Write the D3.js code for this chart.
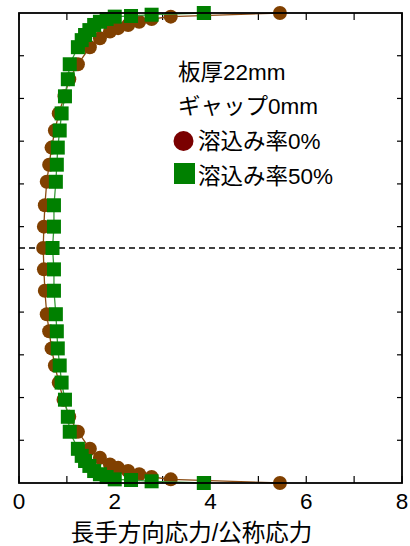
<!DOCTYPE html>
<html>
<head>
<meta charset="utf-8">
<script src="https://cdn.jsdelivr.net/npm/d3@7"></script>
<style>
  body { margin: 0; background: #fff; }
  text { font-family: "Liberation Sans", Arial, sans-serif; }
  .jp { font-family: "Liberation Sans", "Noto Sans CJK JP", sans-serif; }
</style>
</head>
<body>
<div id="chart"></div>
<script>
// distance from plate centre (y) and stress ratio (x)
var brownY = [110, 108.3, 107.2, 105.9, 104.4, 102.9, 101.3, 98.2, 94, 86, 79, 71, 63, 55, 47, 39, 31, 20, 10, 0,
              -10, -20, -31, -39, -47, -55, -63, -71, -79, -86, -94, -98.2, -101.3, -102.9, -104.4, -105.9, -107.2, -108.3, -110];
var brownX = [5.45, 3.17, 2.77, 2.51, 2.28, 2.07, 1.90, 1.69, 1.48, 1.23, 1.05, 0.95, 0.83, 0.75, 0.68, 0.63, 0.58, 0.54, 0.52, 0.505,
              0.52, 0.54, 0.58, 0.63, 0.68, 0.75, 0.83, 0.93, 1.05, 1.23, 1.48, 1.69, 1.90, 2.07, 2.28, 2.51, 2.77, 3.17, 5.45];
var greenY = [110, 109.2, 108.6, 108.3, 107.2, 105.9, 104.4, 102, 99.7, 97.3, 94, 86, 79, 71, 63, 55, 47, 39, 31, 20, 10, 0,
              -10, -20, -31, -39, -47, -55, -63, -71, -79, -86, -94, -97.3, -99.7, -102, -104.4, -105.9, -107.2, -108.3, -108.6, -109.2, -110];
var greenX = [3.86, 2.77, 2.34, 2.0, 1.83, 1.69, 1.57, 1.47, 1.38, 1.31, 1.23, 1.06, 1.02, 0.96, 0.89, 0.85, 0.81, 0.79, 0.77, 0.73, 0.73, 0.70,
              0.73, 0.73, 0.77, 0.79, 0.81, 0.85, 0.89, 0.96, 1.02, 1.06, 1.23, 1.31, 1.38, 1.47, 1.57, 1.69, 1.83, 2.0, 2.34, 2.77, 3.86];
var xTickLabels = [0, 2, 4, 6, 8];
var xTicks = [0, 1, 2, 3, 4, 5, 6, 7, 8];
var yTicks = [-90, -70, -50, -30, -10, 10, 30, 50, 70, 90];
var legendInfo = ["板厚22mm", "ギャップ0mm"];
var seriesNames = ["溶込み率0%", "溶込み率50%"];

var W = 410, H = 546;
var pl = 19, pr = 402, pt = 13, pb = 483;

var svg = d3.select('#chart').append('svg')
    .attr('width', W).attr('height', H);

var x = d3.scaleLinear().domain([0, 8]).range([pl, pr]);
var y = d3.scaleLinear().domain([-110, 110]).range([pb, pt]);

// ticks (inward)
svg.selectAll('.xtb').data(xTicks).enter().append('line')
    .attr('x1', d => x(d)).attr('x2', d => x(d))
    .attr('y1', pb).attr('y2', pb - 7)
    .attr('stroke', '#000').attr('stroke-width', 1.2);
svg.selectAll('.xtt').data(xTicks).enter().append('line')
    .attr('x1', d => x(d)).attr('x2', d => x(d))
    .attr('y1', pt).attr('y2', pt + 7)
    .attr('stroke', '#000').attr('stroke-width', 1.2);
svg.selectAll('.ytl').data(yTicks).enter().append('line')
    .attr('x1', pl).attr('x2', pl + 5)
    .attr('y1', d => y(d)).attr('y2', d => y(d))
    .attr('stroke', '#000').attr('stroke-width', 1.2);
svg.selectAll('.ytr').data(yTicks).enter().append('line')
    .attr('x1', pr).attr('x2', pr - 5)
    .attr('y1', d => y(d)).attr('y2', d => y(d))
    .attr('stroke', '#000').attr('stroke-width', 1.2);

// dashed centre line
svg.append('line')
    .attr('x1', pl).attr('x2', pr)
    .attr('y1', y(0)).attr('y2', y(0))
    .attr('stroke', '#000').attr('stroke-width', 1.3)
    .attr('stroke-dasharray', '6,4');

// tick labels
svg.selectAll('.xl').data(xTickLabels).enter().append('text')
    .attr('x', d => x(d)).attr('y', 509)
    .attr('text-anchor', 'middle')
    .attr('font-size', 22.5)
    .text(d => d);

svg.append('text').attr('class', 'jp')
    .attr('x', 191.5).attr('y', 541)
    .attr('text-anchor', 'middle')
    .attr('font-size', 23.5)
    .text('長手方向応力/公称応力');

var line = d3.line().x(d => x(d[0])).y(d => y(d[1]));
var brown = brownX.map((v, i) => [v, brownY[i]]);
var green = greenX.map((v, i) => [v, greenY[i]]);

svg.append('path').datum(brown).attr('d', line)
    .attr('fill', 'none').attr('stroke', '#8a4a10').attr('stroke-width', 1.3);
svg.selectAll('.bc').data(brown).enter().append('circle')
    .attr('cx', d => x(d[0])).attr('cy', d => y(d[1])).attr('r', 7)
    .attr('fill', '#804000');

svg.append('path').datum(green).attr('d', line)
    .attr('fill', 'none').attr('stroke', '#3a9a3a').attr('stroke-width', 1.3);
svg.selectAll('.gs').data(green).enter().append('rect')
    .attr('x', d => x(d[0]) - 7).attr('y', d => y(d[1]) - 7)
    .attr('width', 14).attr('height', 14)
    .attr('fill', '#008000');

// frame
svg.append('rect')
    .attr('x', pl).attr('y', pt)
    .attr('width', pr - pl).attr('height', pb - pt)
    .attr('fill', 'none').attr('stroke', '#000').attr('stroke-width', 1.8);

// legend
svg.selectAll('.li').data(legendInfo).enter().append('text').attr('class', 'jp')
    .attr('x', 178).attr('y', (d, i) => 80 + i * 34)
    .attr('font-size', 22.5)
    .text(d => d);
svg.append('circle').attr('cx', 183.5).attr('cy', 141).attr('r', 10).attr('fill', '#7a0000');
svg.append('rect').attr('x', 174).attr('y', 163).attr('width', 21).attr('height', 21).attr('fill', '#008000');
svg.selectAll('.ls').data(seriesNames).enter().append('text').attr('class', 'jp')
    .attr('x', 198).attr('y', (d, i) => 149 + i * 35)
    .attr('font-size', 22.5)
    .text(d => d);
</script>
</body>
</html>
